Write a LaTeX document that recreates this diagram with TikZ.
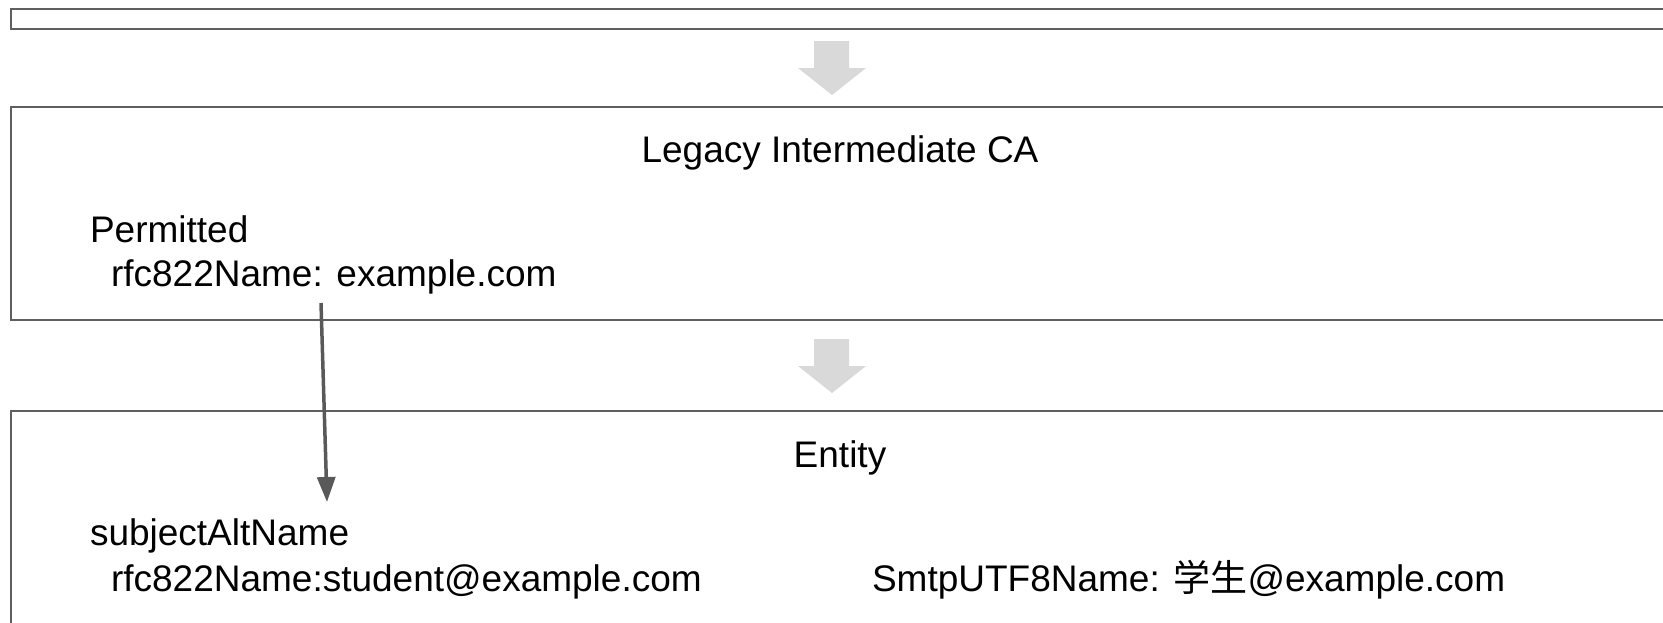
\documentclass[tikz,border=0pt]{standalone}
\usepackage{fontspec}
\setmainfont{Liberation Sans}
\newfontfamily\cjk{Noto Sans CJK JP}
\usetikzlibrary{arrows.meta}
\definecolor{boxline}{RGB}{95,95,95}
\definecolor{conn}{RGB}{89,89,89}
\definecolor{blockfill}{RGB}{217,217,217}
\tikzset{
  x=1pt, y=-1pt,
  certbox/.style={draw=boxline, line width=2pt, fill=none},
  lbl/.style={inner sep=0pt, outer sep=0pt, anchor=base west, font=\fontsize{37}{44}\selectfont},
  title/.style={inner sep=0pt, outer sep=0pt, anchor=base, font=\fontsize{37}{44}\selectfont},
  blockarrow/.style={fill=blockfill, draw=none},
  link/.style={draw=conn, line width=3.5pt, -{Triangle[length=25pt,width=18pt]}}
}
\begin{document}
\begin{tikzpicture}
\useasboundingbox (0,0) rectangle (1663,622);
\clip (0,0) rectangle (1663,622);
% boxes
\draw[certbox] (10.7,9) rectangle (1700,29);
\draw[certbox] (10.7,107) rectangle (1700,320);
\draw[certbox] (10.7,411) rectangle (1700,700);
% block arrows
\fill[blockarrow] (814,41) -- (849,41) -- (849,68) -- (866,68) -- (832,95) -- (798,68) -- (814,68) -- cycle;
\fill[blockarrow] (814,339) -- (849,339) -- (849,366) -- (866,366) -- (832,393) -- (798,366) -- (814,366) -- cycle;
% texts
\node[title] (ca) at (840,162) {Legacy Intermediate CA};
\node[lbl] (perm) at (90,242) {Permitted};
\node[lbl] (permrfc) at (111,286) {rfc822Name: example.com};
\node[title] (ent) at (840,467) {Entity};
\node[lbl] (san) at (90,545) {subjectAltName};
\node[lbl] (sanrfc) at (111,591) {rfc822Name:student@example.com};
\node[lbl] (smtp) at (872,591) {SmtpUTF8Name: {\cjk 学生}@example.com};
% connector
\coordinate (cfrom) at (321,303);
\coordinate (cto) at (327,502);
\draw[link] (cfrom) -- (cto);
\end{tikzpicture}
\end{document}
